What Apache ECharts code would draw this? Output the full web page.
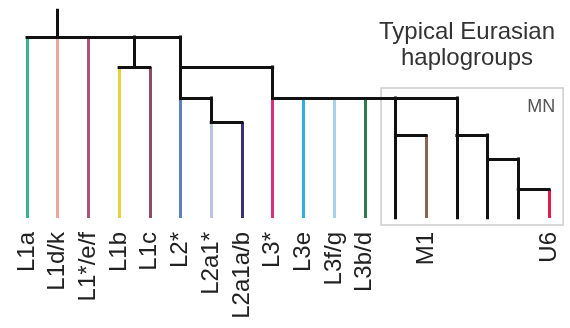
<!DOCTYPE html>
<html>
<head>
<meta charset="utf-8">
<script src="https://cdn.jsdelivr.net/npm/echarts@6/dist/echarts.min.js"></script>
<style>
  html, body { margin: 0; padding: 0; background: #fff; }
  #chart { width: 570px; height: 328px; }
</style>
</head>
<body>
<div id="chart"></div>
<script>
// Leaf names along the bottom (blank = unlabelled lineage inside MN)
const leafNames = ['L1a', 'L1d/k', 'L1*/e/f', 'L1b', 'L1c', 'L2*', 'L2a1*', 'L2a1a/b',
  'L3*', 'L3e', 'L3f/g', 'L3b/d', '', 'M1', '', '', '', 'U6'];
// Leaf line colours
const leafColors = ['#35b58c', '#eda59c', '#a7577c', '#eccf3c', '#8d4c66', '#5b7fc1', '#b9c4e2', '#3b2f78',
  '#d6307f', '#2eb1e2', '#a9d1ee', '#2f7b4b', '#111111', '#8c6552', '#111111', '#111111', '#111111', '#e8194b'];
// Branch depth (top = 0, tips = 208)
const tipDepth = 208;
const rootStubDepth = 0;

// Tree: internal nodes have depth, position (in leaf-index units) and children; numbers are leaf indices
const tree = {
  depth: 27, pos: 1, children: [0, 1, 2,
    { depth: 57, pos: 3.5, children: [3, 4] },
    { depth: 57, pos: 5, children: [
      { depth: 88, pos: 5, children: [5, { depth: 112, pos: 6, children: [6, 7] }] },
      { depth: 88, pos: 8, children: [8, 9, 10, 11,
        { depth: 125, pos: 12, children: [12, 13] },
        { depth: 125, pos: 14, children: [14,
          { depth: 149, pos: 15, children: [15,
            { depth: 179, pos: 16, children: [16, 17] }] }] }] }] }]
};

// MN box extent (leaf-index units / depth) and title
const boxRange = { x0: 11.53, x1: 17.46, d0: 78, d1: 215, label: 'MN' };
const titleLines = ['Typical Eurasian', 'haplogroups'];

// Turn the tree into line segments
const segColored = [];
const segBlack = [];
function posOf(c) { return typeof c === 'number' ? c : c.pos; }
function walk(node, parentDepth) {
  if (typeof node === 'number') {
    const col = leafColors[node];
    (col === '#111111' ? segBlack : segColored).push({
      coords: [[node, parentDepth], [node, tipDepth]], lineStyle: { color: col }
    });
    return;
  }
  segBlack.push({ coords: [[node.pos, parentDepth], [node.pos, node.depth]] });
  const xs = node.children.map(posOf);
  segBlack.push({ coords: [[Math.min(...xs), node.depth], [Math.max(...xs), node.depth]] });
  node.children.forEach(c => walk(c, node.depth));
}
walk(tree, rootStubDepth);

const chart = echarts.init(document.getElementById('chart'), null, { renderer: 'canvas' });
chart.setOption({
  backgroundColor: '#ffffff',
  animation: false,
  grid: { left: 27, right: 21, top: 10, bottom: 110 },
  xAxis: {
    type: 'value', min: 0, max: leafNames.length - 1, interval: 1,
    axisLine: { show: false }, axisTick: { show: false }, splitLine: { show: false },
    axisLabel: {
      rotate: 90, margin: 14, fontSize: 24, color: '#222',
      fontFamily: 'Liberation Sans, Arial, sans-serif',
      formatter: v => leafNames[v] || ''
    }
  },
  yAxis: {
    type: 'value', inverse: true, min: 0, max: tipDepth, show: false
  },
  graphic: [{
    type: 'text', left: 467 - 91, top: 19,
    style: {
      text: titleLines.join('\n'), fontSize: 24, lineHeight: 26, fill: '#333',
      fontFamily: 'Liberation Sans, Arial, sans-serif', textAlign: 'center', x: 91, width: 182
    }
  }],
  series: [
    {
      type: 'custom', clip: false, silent: true,
      data: [[boxRange.x0, boxRange.d0, boxRange.x1, boxRange.d1]],
      renderItem: (params, api) => {
        const p0 = api.coord([api.value(0), api.value(1)]);
        const p1 = api.coord([api.value(2), api.value(3)]);
        return {
          type: 'group', children: [
            { type: 'rect', shape: { x: p0[0], y: p0[1], width: p1[0] - p0[0], height: p1[1] - p0[1] },
              style: { fill: 'none', stroke: '#cccccc', lineWidth: 1.5 } },
            { type: 'text', style: { text: boxRange.label, x: p1[0] - 8, y: p0[1] + 10,
              textAlign: 'right', textVerticalAlign: 'top', fontSize: 18, fill: '#555',
              fontFamily: 'Liberation Sans, Arial, sans-serif' } }
          ]
        };
      }
    },
    {
      type: 'lines', coordinateSystem: 'cartesian2d', polyline: false, silent: true,
      lineStyle: { width: 3, opacity: 1, cap: 'butt' },
      data: segColored
    },
    {
      type: 'lines', coordinateSystem: 'cartesian2d', polyline: false, silent: true,
      lineStyle: { width: 3, opacity: 1, color: '#111111', cap: 'square' },
      data: segBlack
    }
  ]
});
</script>
</body>
</html>
